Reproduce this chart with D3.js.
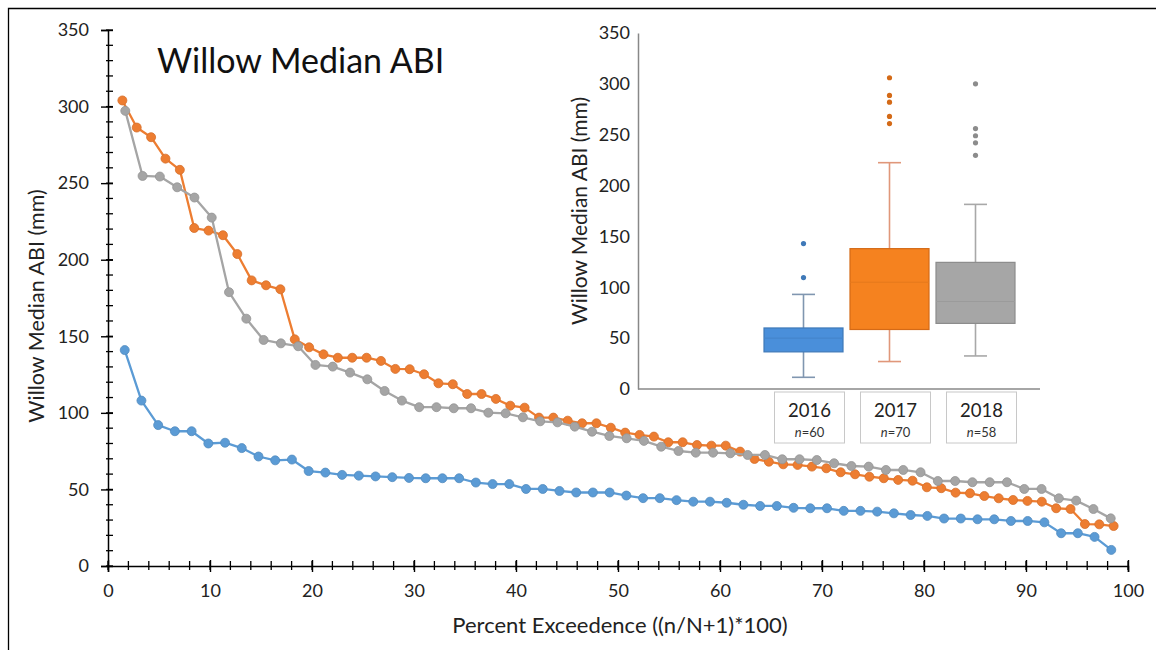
<!DOCTYPE html>
<html><head><meta charset="utf-8">
<script src="https://cdn.jsdelivr.net/npm/d3@7"></script>
<style>
html,body{margin:0;padding:0;background:#fff;}
svg{display:block;font-family:Lato,"Open Sans",sans-serif;}
</style></head>
<body>
<svg id="chart" width="1156" height="650"></svg>
<script>
// ---------- DATA ----------
const years = ["2016", "2017", "2018"];
const counts = [60, 70, 58];
const xTicks = [0,10,20,30,40,50,60,70,80,90,100];
const yTicks = [0,50,100,150,200,250,300,350];

// ranked (descending) median ABI values, mm
const abi2016 = [141,108,92,88,88,80,80.5,77,71.5,69,69.5,62,61,59.5,59,58.5,58,57.5,57.3,57.3,
  57.3,54.5,53.5,53.5,50.3,50.3,49,48,48,48,46,44.3,44.3,43,42,42,41.3,40,39.2,39.2,
  38,37.7,37.7,36,36,35.5,34.4,33.3,32.7,31,31,30.5,30.5,29.4,29.4,28.5,21.4,21.4,19,10.5];
const abi2017 = [304,286.3,280,266,258.7,220.7,219,216,203.7,186.5,183.3,180.7,148,142.8,138.2,136,136,136,133.9,128.7,
  128.5,125.2,119.3,118.7,112.3,112.3,109.1,104.7,103.4,96.9,96.9,94.9,93.2,93.2,90.3,87.1,85.6,84.5,80.8,80.8,
  79,78.6,78.6,74.7,69.9,68.1,66.4,66,64.9,63.8,61.2,59.9,58.3,57.3,56.2,55.7,51.4,50.8,47.9,47.5,
  45.7,44.2,43.1,42.5,42,37.7,37.2,27.4,27.2,26.1];
const abi2018 = [297.2,254.7,254.3,247.3,240.6,227.5,178.8,161.5,147.6,145.4,143.5,131.3,130.2,126.3,121.9,114.3,108,103.7,103.7,103,
  103,100.1,99.7,97.1,94.5,93.8,91,87.7,84.9,83.4,81.7,77.9,75.1,74,74,73.6,72.5,72.5,69.7,69.7,
  69.2,67.1,65.3,64.9,62.7,62.7,61.2,55.5,55.5,54.7,54.7,54.7,50.3,50.3,44.2,42.7,37.2,31.1];

// box plot statistics (mm)
const boxQ1 = [36.5, 58.5, 64.5];
const boxMedian = [50, 105, 86];
const boxQ3 = [60, 138, 124.5];
const whiskerLow = [11.5, 27, 32.5];
const whiskerHigh = [93, 222.5, 181.5];
const outliers2016 = [143, 109.5];
const outliers2017 = [306, 288.6, 282, 268, 261];
const outliers2018 = [300, 256, 249, 242, 229.7];

const colors = ["#5B9BD5", "#ED7D31", "#A5A5A5"];
const boxFill = ["#4A8FDA", "#F5821F", "#A6A6A6"];
const boxStroke = ["#3F79B8", "#D46A17", "#8C8C8C"];
const whiskerCol = ["#8096B0", "#E0977A", "#A8A8A8"];

// ---------- DRAW ----------
const svg = d3.select("#chart");
const series = [abi2016, abi2017, abi2018];
const outl = [outliers2016, outliers2017, outliers2018];

// outer frame (left and top edges)
svg.append("path").attr("d","M8.5,650 L8.5,8.5 L1156,8.5")
  .attr("fill","none").attr("stroke","#000").attr("stroke-width",1.3);

const x = d3.scaleLinear().domain([0,100]).range([108,1128]);
const y = d3.scaleLinear().domain([0,350]).range([566,30]);

// minor ticks
const gMinor = svg.append("g");
gMinor.selectAll("line.yminor").data(d3.range(0,351,10)).join("line")
  .attr("x1",x(0)-2).attr("x2",x(0)+5).attr("y1",d=>y(d)).attr("y2",d=>y(d))
  .attr("stroke","#000").attr("stroke-width",1.3);
gMinor.selectAll("line.xminor").data(d3.range(0,101,2)).join("line")
  .attr("x1",d=>x(d)).attr("x2",d=>x(d)).attr("y1",y(0)-5).attr("y2",y(0)+4)
  .attr("stroke","#000").attr("stroke-width",1.3);

// axes
const yAxis = d3.axisLeft(y).tickValues(yTicks).tickSize(7).tickPadding(12);
const gy = svg.append("g").attr("transform",`translate(${x(0)},0)`).call(yAxis);
gy.select(".domain").attr("stroke","#000").attr("stroke-width",1.5);
gy.selectAll(".tick line").attr("x2",-7).attr("x1",5).attr("stroke","#000").attr("stroke-width",1.4);
gy.selectAll(".tick text").attr("font-size",18).attr("fill","#222").attr("font-family","Lato, sans-serif");

const xAxis = d3.axisBottom(x).tickValues(xTicks).tickSize(6).tickPadding(12);
const gx = svg.append("g").attr("transform",`translate(0,${y(0)})`).call(xAxis);
gx.select(".domain").attr("stroke","#000").attr("stroke-width",1.5);
gx.selectAll(".tick line").attr("y1",-6).attr("y2",6).attr("stroke","#000").attr("stroke-width",1.4);
gx.selectAll(".tick text").attr("font-size",18).attr("fill","#222").attr("font-family","Lato, sans-serif");

// labels
svg.append("text").attr("x",157).attr("y",73).attr("font-size",34).attr("fill","#111")
  .text("Willow Median ABI");
svg.append("text").attr("transform","translate(44,306) rotate(-90)").attr("text-anchor","middle")
  .attr("font-size",21.5).attr("fill","#222").text("Willow Median ABI (mm)");
svg.append("text").attr("x",620).attr("y",633).attr("text-anchor","middle")
  .attr("font-size",22).attr("fill","#222").text("Percent Exceedence ((n/N+1)*100)");

// series
const line = d3.line().x(d=>x(d[0])).y(d=>y(d[1]));
series.forEach((vals,k)=>{
  const N = vals.length;
  const pts = vals.map((v,i)=>[(i+1)/(N+1)*100, v]);
  const g = svg.append("g");
  g.append("path").datum(pts).attr("d",line).attr("fill","none")
    .attr("stroke",colors[k]).attr("stroke-width",2.3).attr("stroke-linejoin","round");
  g.selectAll("circle").data(pts).join("circle")
    .attr("cx",d=>x(d[0])).attr("cy",d=>y(d[1])).attr("r",4.5)
    .attr("fill",colors[k]).attr("stroke",d3.color(colors[k]).darker(0.3)).attr("stroke-width",0.8);
});

// ---------- INSET BOX PLOT ----------
const iy = d3.scaleLinear().domain([0,350]).range([389,33]);
const ix = d3.scalePoint().domain(years).range([803.5,975.5]);
const ins = svg.append("g");
const iyAxis = d3.axisLeft(iy).tickValues(yTicks).tickSize(0).tickPadding(8);
const giy = ins.append("g").attr("transform","translate(638,0)").call(iyAxis);
giy.select(".domain").attr("stroke","#888").attr("stroke-width",1.5);
giy.selectAll(".tick text").attr("font-size",18).attr("fill","#222").attr("font-family","Lato, sans-serif");
ins.append("line").attr("x1",638).attr("x2",1040).attr("y1",iy(0)).attr("y2",iy(0))
  .attr("stroke","#888").attr("stroke-width",1.5);
ins.append("text").attr("transform","translate(587,211) rotate(-90)").attr("text-anchor","middle")
  .attr("font-size",21).attr("fill","#222").text("Willow Median ABI (mm)");

const bw = 79, cap = 23;
years.forEach((yr,k)=>{
  const cx = ix(yr);
  const g = ins.append("g");
  g.append("line").attr("x1",cx).attr("x2",cx).attr("y1",iy(whiskerHigh[k])).attr("y2",iy(boxQ3[k]))
    .attr("stroke",whiskerCol[k]).attr("stroke-width",1.6);
  g.append("line").attr("x1",cx).attr("x2",cx).attr("y1",iy(whiskerLow[k])).attr("y2",iy(boxQ1[k]))
    .attr("stroke",whiskerCol[k]).attr("stroke-width",1.6);
  [whiskerHigh[k],whiskerLow[k]].forEach(v=>{
    g.append("line").attr("x1",cx-cap/2).attr("x2",cx+cap/2).attr("y1",iy(v)).attr("y2",iy(v))
      .attr("stroke",whiskerCol[k]).attr("stroke-width",1.6);
  });
  g.append("rect").attr("x",cx-bw/2).attr("y",iy(boxQ3[k])).attr("width",bw)
    .attr("height",iy(boxQ1[k])-iy(boxQ3[k])).attr("fill",boxFill[k])
    .attr("stroke",boxStroke[k]).attr("stroke-width",1.2);
  g.append("line").attr("x1",cx-bw/2).attr("x2",cx+bw/2).attr("y1",iy(boxMedian[k])).attr("y2",iy(boxMedian[k]))
    .attr("stroke",d3.color(boxFill[k]).darker(0.2)).attr("stroke-width",1.1);
  g.selectAll("circle").data(outl[k]).join("circle")
    .attr("cx",cx).attr("cy",d=>iy(d)).attr("r",2.6).attr("fill",boxStroke[k]);
  // label box
  const lx = cx + 6;
  g.append("rect").attr("x",lx-35).attr("y",392).attr("width",70).attr("height",51)
    .attr("fill","#fff").attr("stroke","#c8c8c8").attr("stroke-width",1);
  g.append("text").attr("x",lx).attr("y",417).attr("text-anchor","middle").attr("font-size",18.5)
    .attr("fill","#222").text(yr);
  const t = g.append("text").attr("x",lx).attr("y",437).attr("text-anchor","middle").attr("font-size",13)
    .attr("fill","#333");
  t.append("tspan").attr("font-style","italic").text("n");
  t.append("tspan").text("=" + counts[k]);
});
</script>
</body></html>
